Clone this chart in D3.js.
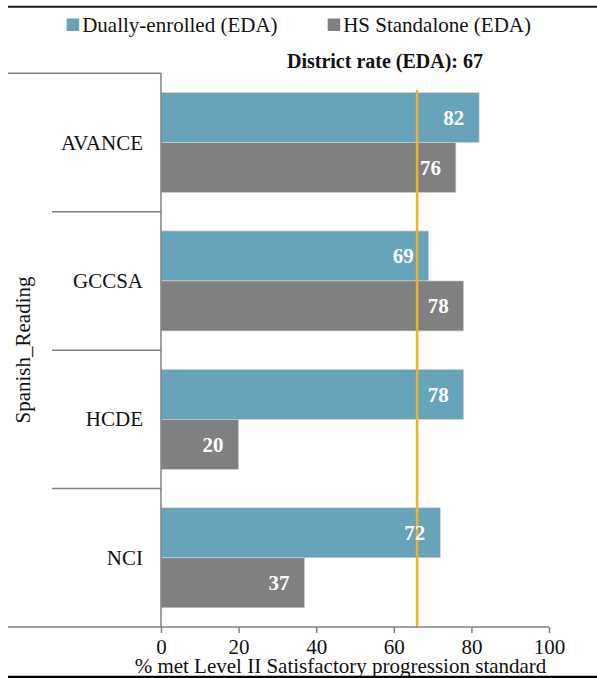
<!DOCTYPE html>
<html>
<head>
<meta charset="utf-8">
<script src="https://cdn.jsdelivr.net/npm/d3@7"></script>
<style>
  html, body { margin: 0; padding: 0; background: #fff; }
  svg { display: block; }
  svg text { font-family: "Liberation Serif", "DejaVu Serif", serif !important; }
</style>
</head>
<body>
<svg id="chart" width="597" height="678"></svg>
<script>
const categories = ["AVANCE", "GCCSA", "HCDE", "NCI"];
const dualValues = [82, 69, 78, 72];
const standaloneValues = [76, 78, 20, 37];
const seriesNames = ["Dually-enrolled (EDA)", "HS Standalone (EDA)"];
const seriesColors = ["#67a3ba", "#808080"];
const xTicks = [0, 20, 40, 60, 80, 100];
const districtRateLabel = 67;
const districtLineValue = 66;
const groupTitle = "Spanish_Reading";
const xTitle = "% met Level II Satisfactory progression standard";

const FONT = "'Liberation Serif', 'DejaVu Serif', serif";
const svg = d3.select("#chart");

const x = d3.scaleLinear().domain([0, 100]).range([161, 549]);
const y = d3.scaleBand().domain(categories).range([73.3, 627]).padding(0);
const yInner = d3.scaleBand().domain(seriesNames).range([0, y.bandwidth()])
  .paddingInner(0).paddingOuter(0.384);

// frame line top
svg.append("line").attr("x1", 8).attr("x2", 597).attr("y1", 6.7).attr("y2", 6.7)
  .attr("stroke", "#1a1a1a").attr("stroke-width", 2);

// bars
const rows = categories.map((c, i) => ({ cat: c, vals: [dualValues[i], standaloneValues[i]] }));
const g = svg.append("g");
rows.forEach(r => {
  r.vals.forEach((v, j) => {
    const yy = y(r.cat) + yInner(seriesNames[j]);
    g.append("rect")
      .attr("x", x(0)).attr("y", yy)
      .attr("width", x(v) - x(0)).attr("height", yInner.bandwidth())
      .attr("fill", seriesColors[j])
      .attr("stroke", "#d6d6d6").attr("stroke-width", 0.6);
  });
});

// district line
svg.append("line")
  .attr("x1", x(districtLineValue)).attr("x2", x(districtLineValue))
  .attr("y1", 90).attr("y2", y.range()[1])
  .attr("stroke", "#f0b323").attr("stroke-width", 2.5);

// bar labels
rows.forEach(r => {
  r.vals.forEach((v, j) => {
    const yy = y(r.cat) + yInner(seriesNames[j]) + yInner.bandwidth() / 2;
    svg.append("text")
      .attr("x", x(v) - 15).attr("y", yy + 7.5)
      .attr("text-anchor", "end")
      .attr("font-family", FONT)
      .attr("font-size", 21).attr("font-weight", "bold")
      .attr("fill", "#fff")
      .text(v);
  });
});

// x axis
const axisG = svg.append("g").attr("transform", `translate(0,${y.range()[1]})`)
  .call(d3.axisBottom(x).tickValues(xTicks).tickSize(6).tickPadding(6));
axisG.attr("font-family", FONT);
axisG.select(".domain").remove();
axisG.selectAll(".tick line").attr("stroke", "#808080").attr("stroke-width", 1.5);
axisG.selectAll(".tick text")
  .attr("font-family", FONT)
  .attr("font-size", 21).attr("fill", "#111");
svg.append("line").attr("x1", 8).attr("x2", x(100)).attr("y1", y.range()[1]).attr("y2", y.range()[1])
  .attr("stroke", "#808080").attr("stroke-width", 1.5);

// y axis line and separators
svg.append("line").attr("x1", x(0)).attr("x2", x(0)).attr("y1", y.range()[0]).attr("y2", y.range()[1])
  .attr("stroke", "#808080").attr("stroke-width", 1.5);
categories.forEach((c, i) => {
  svg.append("line")
    .attr("x1", i === 0 ? 8 : 52).attr("x2", x(0))
    .attr("y1", y(c)).attr("y2", y(c))
    .attr("stroke", "#808080").attr("stroke-width", 1.5);
  svg.append("text")
    .attr("x", 143).attr("y", y(c) + y.bandwidth() / 2 + 7)
    .attr("text-anchor", "end")
    .attr("font-family", FONT).attr("font-size", 21).attr("fill", "#111")
    .text(c);
});

// group title
svg.append("text")
  .attr("transform", "translate(30,350) rotate(-90)")
  .attr("text-anchor", "middle")
  .attr("font-family", FONT).attr("font-size", 21).attr("fill", "#111")
  .text(groupTitle);

// x title
svg.append("text")
  .attr("x", 340.5).attr("y", 672.5)
  .attr("text-anchor", "middle")
  .attr("font-family", FONT).attr("font-size", 21).attr("fill", "#111")
  .text(xTitle);

// bottom frame line
svg.append("line").attr("x1", 8).attr("x2", 597).attr("y1", 677.2).attr("y2", 677.2)
  .attr("stroke", "#000").attr("stroke-width", 3);

// legend
const legendPos = [66.7, 327.7];
seriesNames.forEach((s, i) => {
  svg.append("rect").attr("x", legendPos[i]).attr("y", 18.5)
    .attr("width", 12.5).attr("height", 12.5).attr("fill", seriesColors[i]);
  svg.append("text").attr("x", legendPos[i] + 15.5).attr("y", 31.5)
    .attr("font-family", FONT)
    .attr("font-size", 21).attr("fill", "#111").text(s);
});

// district label
svg.append("text")
  .attr("x", 385).attr("y", 67.5)
  .attr("text-anchor", "middle")
  .attr("font-family", FONT)
  .attr("font-size", 20).attr("font-weight", "bold")
  .attr("fill", "#111")
  .text(`District rate (EDA): ${districtRateLabel}`);
</script>
</body>
</html>
